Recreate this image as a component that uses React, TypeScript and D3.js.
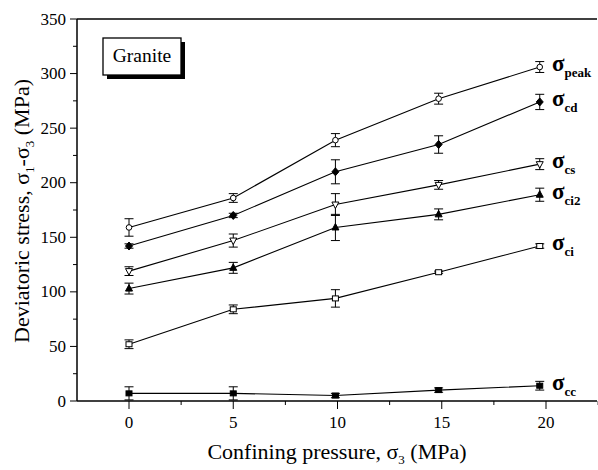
import React from "react";
import * as d3 from "d3";

const xs = [0, 5, 9.9, 14.85, 19.7];
const peak = [159, 186, 239, 277, 306];
const peakErr = [8, 4, 6, 5, 5];
const cd = [142, 170, 210, 235, 274];
const cdErr = [2, 2, 11, 8, 7];
const cs = [119, 147, 180, 198, 217];
const csErr = [4, 6, 10, 4, 5];
const ci2 = [103, 122, 159, 171, 189];
const ci2Err = [5, 5, 12, 5, 6];
const ci = [52, 84, 94, 118, 142];
const ciErr = [4, 4, 8, 1, 2];
const cc = [7, 7, 5, 10, 14];
const ccErr = [6, 6, 2, 2, 4];
const xTicks = [0, 5, 10, 15, 20];
const yTicks = [0, 50, 100, 150, 200, 250, 300, 350];

const series = [
  { name: "peak", vals: peak, err: peakErr, marker: "circle", fill: false },
  { name: "cd", vals: cd, err: cdErr, marker: "diamond", fill: true },
  { name: "cs", vals: cs, err: csErr, marker: "tdown", fill: false },
  { name: "ci2", vals: ci2, err: ci2Err, marker: "tup", fill: true },
  { name: "ci", vals: ci, err: ciErr, marker: "square", fill: false },
  { name: "cc", vals: cc, err: ccErr, marker: "square", fill: true },
];

const W = 598, H = 470;
const x = d3.scaleLinear().domain([0, 20]).range([129, 546]);
const y = d3.scaleLinear().domain([0, 350]).range([401, 19]);
const serif = '"Liberation Serif"';

function Marker({ type, fill, cx, cy }: { type: string; fill: boolean; cx: number; cy: number }) {
  const f = fill ? "#000" : "#fff";
  const s = 3;
  if (type === "circle") return <circle cx={cx} cy={cy} r={2.8} fill={f} stroke="#000" strokeWidth={1} />;
  if (type === "square") return <rect x={cx - s} y={cy - s + 0.5} width={2 * s} height={2 * s - 1} fill={f} stroke="#000" strokeWidth={1} />;
  if (type === "diamond") return <path d={`M${cx},${cy - 4}L${cx + 3.5},${cy}L${cx},${cy + 4}L${cx - 3.5},${cy}Z`} fill={f} stroke="#000" strokeWidth={1} />;
  if (type === "tup") return <path d={`M${cx},${cy - 4}L${cx + 3.5},${cy + 2.5}L${cx - 3.5},${cy + 2.5}Z`} fill={f} stroke="#000" strokeWidth={1} />;
  return <path d={`M${cx},${cy + 4}L${cx + 3.5},${cy - 2.5}L${cx - 3.5},${cy - 2.5}Z`} fill={f} stroke="#000" strokeWidth={1} />;
}

export default function App() {
  const line = d3.line<number>().x((_, i) => x(xs[i])).y((v) => y(v));
  const minorX = d3.range(0, 22.6, 2.5);
  const minorY = d3.range(0, 351, 25);
  const ts = { fontFamily: serif };
  return (
    <svg width={W} height={H} style={{ position: "absolute", left: 0, top: 0, background: "#fff" }}>
      <rect width={W} height={H} fill="#fff" />
      <line x1={77} y1={19} x2={597} y2={19} stroke="#000" strokeWidth={1.5} />
      <line x1={77} y1={401} x2={597} y2={401} stroke="#000" strokeWidth={1.5} />
      <line x1={77} y1={19} x2={77} y2={401} stroke="#000" strokeWidth={1.5} />
      {minorY.map((v) => (
        <line key={"my" + v} x1={v % 50 === 0 ? 70 : 73} x2={77} y1={y(v)} y2={y(v)} stroke="#000" strokeWidth={1} />
      ))}
      {yTicks.map((v) => (
        <text key={"yt" + v} x={66} y={y(v) + 5.5} textAnchor="end" fontSize={17} style={ts}>{v}</text>
      ))}
      {minorX.map((v) => (
        <line key={"mx" + v} x1={x(v)} x2={x(v)} y1={401} y2={v % 5 === 0 ? 409 : 405} stroke="#000" strokeWidth={1} />
      ))}
      {xTicks.map((v) => (
        <text key={"xt" + v} x={x(v)} y={428} textAnchor="middle" fontSize={17} style={ts}>{v}</text>
      ))}
      <text x={337} y={459} textAnchor="middle" fontSize={22} style={ts}>
        Confining pressure, σ<tspan fontSize={13} dy={5}>3</tspan><tspan dy={-5}> (MPa)</tspan>
      </text>
      <text transform="translate(29,211) rotate(-90)" textAnchor="middle" fontSize={22} style={ts}>
        Deviatoric stress, σ<tspan fontSize={13} dy={5}>1</tspan><tspan dy={-5}>-σ</tspan><tspan fontSize={13} dy={5}>3</tspan><tspan dy={-5}> (MPa)</tspan>
      </text>
      <rect x={107} y={42} width={78} height={37} fill="#000" />
      <rect x={103} y={38} width={78} height={37} fill="#fff" stroke="#000" strokeWidth={1.3} />
      <text x={142} y={62} textAnchor="middle" fontSize={19.5} style={ts}>Granite</text>
      {series.map((s) => (
        <g key={s.name}>
          <path d={line(s.vals) || ""} fill="none" stroke="#000" strokeWidth={1.1} />
          {s.vals.map((v, i) => {
            const cx = x(xs[i]);
            const y1 = y(v - s.err[i]);
            const y2 = y(v + s.err[i]);
            return (
              <g key={i}>
                <line x1={cx} x2={cx} y1={y1} y2={y2} stroke="#000" strokeWidth={1} />
                <line x1={cx - 4.5} x2={cx + 4.5} y1={y1} y2={y1} stroke="#000" strokeWidth={1} />
                <line x1={cx - 4.5} x2={cx + 4.5} y1={y2} y2={y2} stroke="#000" strokeWidth={1} />
                <Marker type={s.marker} fill={s.fill} cx={cx} cy={y(v)} />
              </g>
            );
          })}
          <text x={552} y={y(s.vals[4]) + 4} fontSize={23} fontWeight="bold" style={ts}>
            σ<tspan fontSize={13} dy={6}>{s.name}</tspan>
          </text>
        </g>
      ))}
    </svg>
  );
}
